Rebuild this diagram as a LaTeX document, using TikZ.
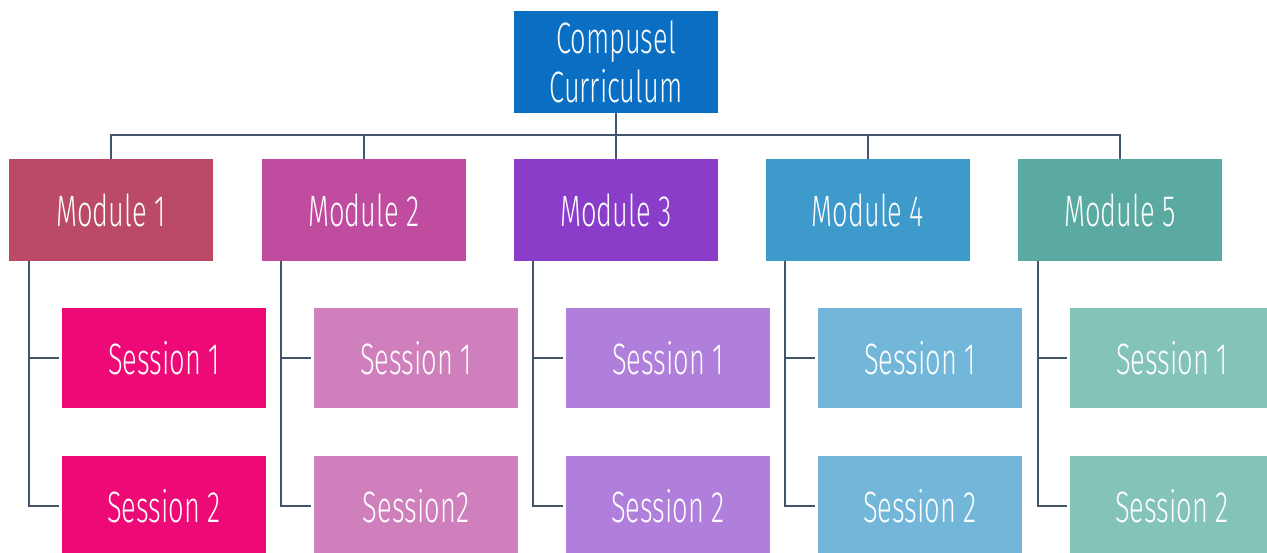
\documentclass[tikz,border=0pt]{standalone}
\usepackage{fontspec}
\setmainfont{Fira Sans}[UprightFont=* Light,FakeStretch=0.62]
\definecolor{topblue}{HTML}{0A6FC2}
\definecolor{modone}{HTML}{BA4A65}
\definecolor{modtwo}{HTML}{BF4C9F}
\definecolor{modthree}{HTML}{8A3DC9}
\definecolor{modfour}{HTML}{3D9ACB}
\definecolor{modfive}{HTML}{5AAAA2}
\definecolor{sesone}{HTML}{EE0A76}
\definecolor{sestwo}{HTML}{CF80BC}
\definecolor{sesthree}{HTML}{B07EDB}
\definecolor{sesfour}{HTML}{72B7DA}
\definecolor{sesfive}{HTML}{84C3B8}
\definecolor{linegray}{HTML}{44546A}
\tikzset{
  box/.style={shape=rectangle,inner sep=0pt,minimum width=4.1cm,minimum height=2.04cm,
    text=white,font=\fontsize{25}{28}\selectfont,align=center},
  sesbox/.style={box,minimum height=2cm},
  conn/.style={draw=linegray,line width=1.15pt}
}
\begin{document}
\begin{tikzpicture}[x=0.02cm,y=-0.02cm]
\useasboundingbox (0,0) rectangle (1267,552);
\clip (0,0) rectangle (1267,552);
% top and modules
\node[box,fill=topblue,name=top] at (616,62){Compusel\\Curriculum};
\node[box,fill=modone,name=m1] at (111,210){Module 1};
\node[box,fill=modtwo,name=m2] at (364,210){Module 2};
\node[box,fill=modthree,name=m3] at (616,210){Module 3};
\node[box,fill=modfour,name=m4] at (868,210){Module 4};
\node[box,fill=modfive,name=m5] at (1120,210){Module 5};
% sessions
\node[sesbox,fill=sesone,name=s11] at (164,358){Session 1};
\node[sesbox,fill=sesone,name=s12] at (164,506){Session 2};
\node[sesbox,fill=sestwo,name=s21] at (416,358){Session 1};
\node[sesbox,fill=sestwo,name=s22] at (416,506){Session2};
\node[sesbox,fill=sesthree,name=s31] at (668,358){Session 1};
\node[sesbox,fill=sesthree,name=s32] at (668,506){Session 2};
\node[sesbox,fill=sesfour,name=s41] at (920,358){Session 1};
\node[sesbox,fill=sesfour,name=s42] at (920,506){Session 2};
\node[sesbox,fill=sesfive,name=s51] at (1172,358){Session 1};
\node[sesbox,fill=sesfive,name=s52] at (1172,506){Session 2};
% tree lines
\coordinate (bar) at (616,135);
\draw[conn] (m1.north) |- (bar) -| (m5.north);
\draw[conn] (top.south) -- (m3.north);
\draw[conn] (m2.north) -- (m2.north |- bar);
\draw[conn] (m4.north) -- (m4.north |- bar);
\coordinate (v1) at (29,261);
\coordinate (v2) at (281,261);
\coordinate (v3) at (533,261);
\coordinate (v4) at (785,261);
\coordinate (v5) at (1038,261);
\draw[conn,shorten >=1pt] (v1) |- (s12.west);
\draw[conn,shorten >=1pt] (v1 |- s11.west) -- (s11.west);
\draw[conn,shorten >=1pt] (v2) |- (s22.west);
\draw[conn,shorten >=1pt] (v2 |- s21.west) -- (s21.west);
\draw[conn,shorten >=1pt] (v3) |- (s32.west);
\draw[conn,shorten >=1pt] (v3 |- s31.west) -- (s31.west);
\draw[conn,shorten >=1pt] (v4) |- (s42.west);
\draw[conn,shorten >=1pt] (v4 |- s41.west) -- (s41.west);
\draw[conn,shorten >=1pt] (v5) |- (s52.west);
\draw[conn,shorten >=1pt] (v5 |- s51.west) -- (s51.west);
\end{tikzpicture}
\end{document}
